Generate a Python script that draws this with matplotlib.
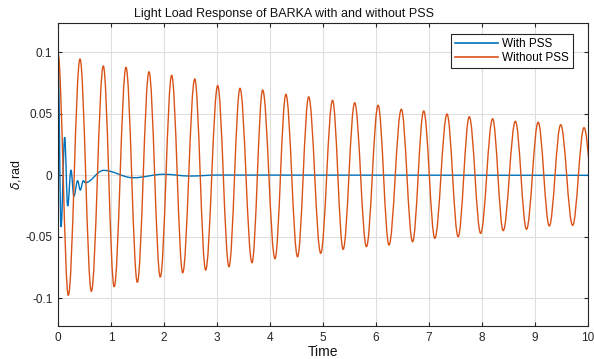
import matplotlib
matplotlib.use("Agg")
import matplotlib.pyplot as plt
from matplotlib.path import Path
import matplotlib.patches as patches

plt.rcParams['font.family'] = ['Liberation Sans', 'DejaVu Sans']

# extrema of each response (time s, delta rad)
t_without = [0.0, 0.195, 0.415, 0.63, 0.855, 1.06, 1.283, 1.497, 1.717, 1.93,
             2.145, 2.353, 2.58, 2.786, 3.013, 3.226, 3.434, 3.66, 3.862, 4.094,
             4.30, 4.52, 4.73, 4.957, 5.18, 5.38, 5.598, 5.82, 6.04, 6.245,
             6.478, 6.69, 6.9, 7.11, 7.34, 7.55, 7.76, 7.975, 8.2, 8.4,
             8.63, 8.84, 9.06, 9.27, 9.485, 9.71, 9.925, 10.15]
d_without = [0.099, -0.0976, 0.0946, -0.0943, 0.0889, -0.0906, 0.0878, -0.087, 0.0842, -0.0827,
             0.0813, -0.0792, 0.0783, -0.077, 0.0729, -0.0743, 0.0707, -0.071, 0.0693, -0.0678,
             0.0658, -0.0662, 0.0637, -0.0634, 0.061, -0.0602, 0.059, -0.058, 0.0569, -0.0567,
             0.0537, -0.054, 0.0523, -0.0512, 0.0498, -0.0499, 0.0476, -0.0472, 0.046, -0.045,
             0.0439, -0.0439, 0.0431, -0.0412, 0.0411, -0.0407, 0.0387, -0.038]

t_with = [0.0, 0.057, 0.126, 0.183, 0.245, 0.30, 0.37, 0.42, 0.478, 0.515,
          0.86, 1.42, 1.99, 2.5, 3.0, 10.0]
d_with = [0.1, -0.042, 0.031, -0.025, 0.0043, -0.017, -0.0044, -0.012, -0.0044, -0.006,
          0.004, -0.002, 0.0008, -0.0006, 0.0002, 0.0]

xticks = list(range(0, 11))
yticks = [-0.1, -0.05, 0, 0.05, 0.1]
ytick_labels = ['-0.1', '-0.05', '0', '0.05', '0.1']

BLUE = '#0072BD'
ORANGE = '#D95319'


def smooth_path(ts, ys):
    # cubic bezier between extrema, flat tangent at each extremum
    verts = [(ts[0], ys[0])]
    codes = [Path.MOVETO]
    c = 0.3634
    for i in range(len(ts) - 1):
        dt = ts[i + 1] - ts[i]
        verts += [(ts[i] + c * dt, ys[i]), (ts[i + 1] - c * dt, ys[i + 1]), (ts[i + 1], ys[i + 1])]
        codes += [Path.CURVE4] * 3
    return Path(verts, codes)


fig = plt.figure(figsize=(5.94, 3.59), dpi=100)
ax = fig.add_axes([58 / 594, 33 / 359, 530 / 594, 303 / 359])

for ts, ys, col in [(t_with, d_with, BLUE), (t_without, d_without, ORANGE)]:
    ax.add_patch(patches.PathPatch(smooth_path(ts, ys), facecolor='none',
                                   edgecolor=col, linewidth=1.0))

# legend proxies
ax.plot([], [], color=BLUE, linewidth=1.2, label='With PSS')
ax.plot([], [], color=ORANGE, linewidth=1.2, label='Without PSS')

ax.set_xlim(0, 10)
ax.set_ylim(-0.1225, 0.1238)
ax.set_xticks(xticks)
ax.set_yticks(yticks)
ax.set_yticklabels(ytick_labels)
ax.grid(True, color='#dedede', linewidth=0.8)
ax.set_axisbelow(True)
ax.tick_params(direction='in', length=3, width=0.8, top=True, right=True,
               labelsize=8.5, colors='#262626', pad=4)
for sp in ax.spines.values():
    sp.set_color('#262626')
    sp.set_linewidth(0.8)

fig.text(284 / 594, 1 - 14 / 359, 'Light Load Response of BARKA with and without PSS',
         fontsize=9, ha='center', va='center', color='#111111')
ax.set_xlabel('Time', fontsize=10, labelpad=1, color='#111111')
ax.set_ylabel(r'$\delta$,rad', fontsize=9, labelpad=2, color='#111111')

leg = ax.legend(loc='upper right', bbox_to_anchor=(0.972, 0.964), borderaxespad=0,
                fontsize=8.5, handlelength=3.6, handletextpad=0.4, borderpad=0.35,
                labelspacing=0.15, fancybox=False, framealpha=1, edgecolor='#262626')
leg.get_frame().set_linewidth(0.8)

fig.savefig('out.png', dpi=100)
